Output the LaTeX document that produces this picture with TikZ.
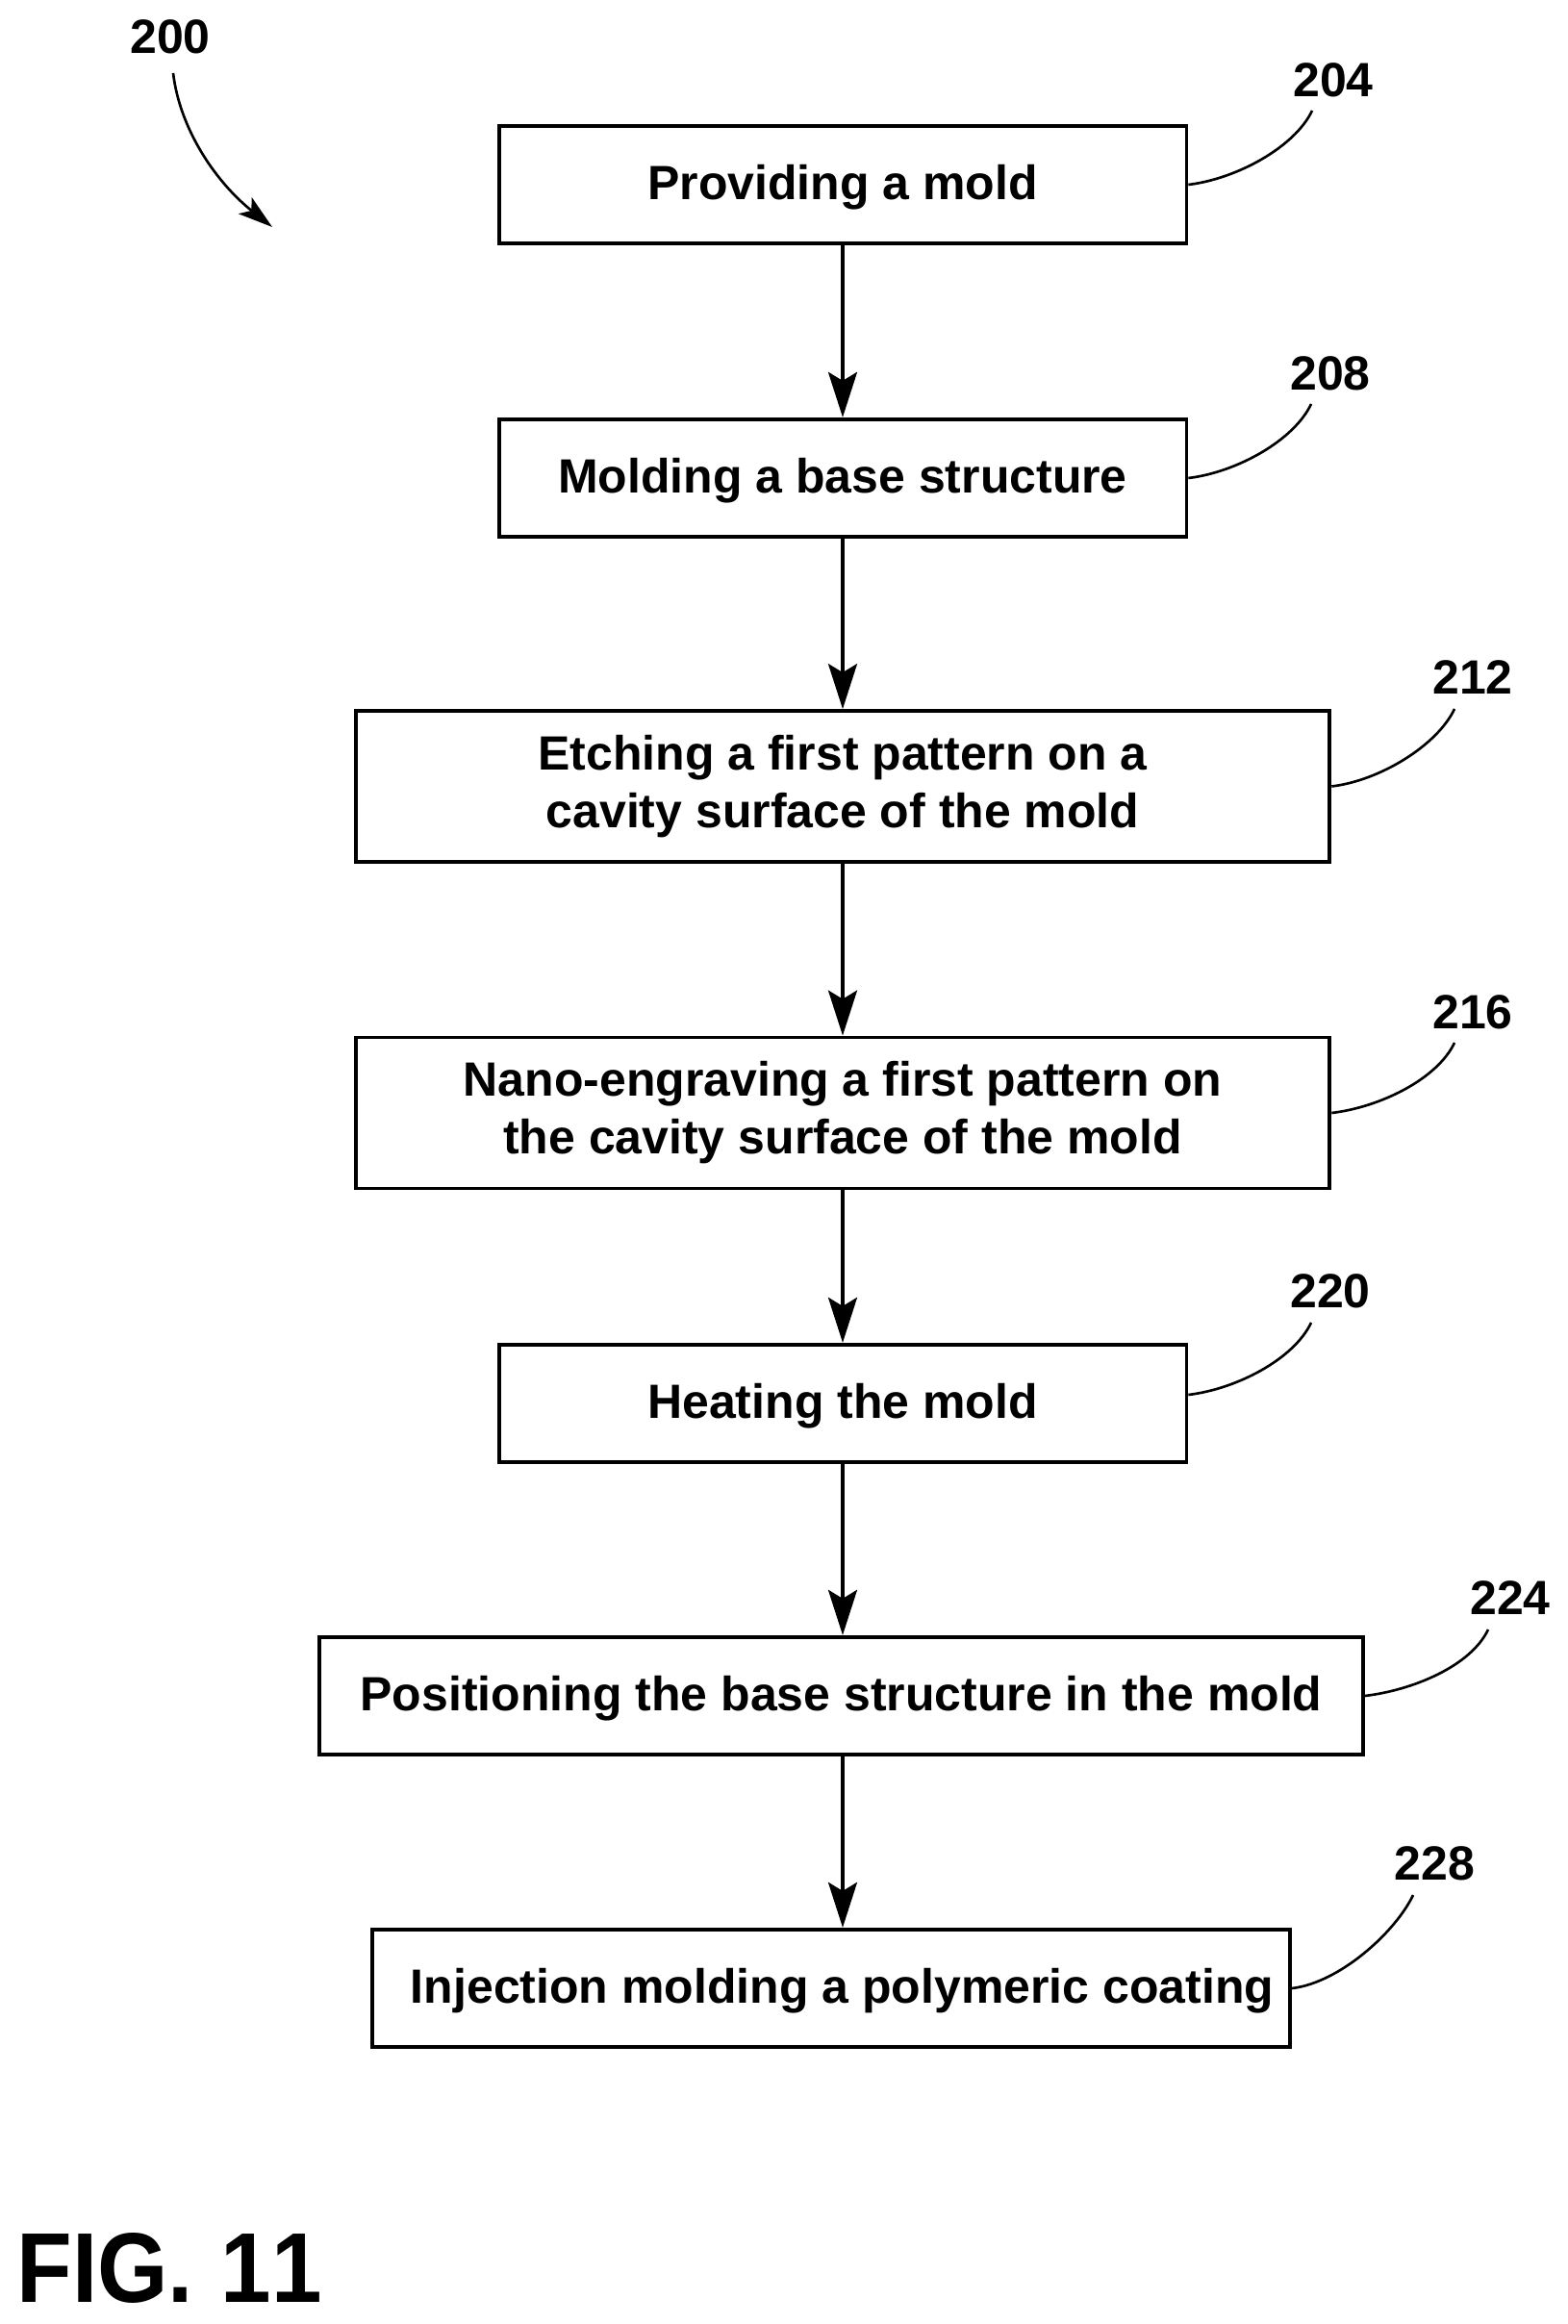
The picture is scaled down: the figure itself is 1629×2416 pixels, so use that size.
\documentclass[tikz,border=0pt]{standalone}
\usepackage{graphicx}
\usepackage{fontspec}
\setmainfont{Liberation Sans}
\usetikzlibrary{arrows.meta}
\tikzset{
  stepbox/.style={draw=black,line width=2.2pt,fill=white,align=center,inner sep=0pt,
    font=\fontsize{28.45}{34.1}\selectfont\bfseries,minimum width=14.3cm,minimum height=2.45cm,
    execute at begin node={\rule{0pt}{0.83cm}}},
  widebox/.style={stepbox,minimum width=20.26cm,minimum height=3.14cm,
    execute at begin node={}},
  refnum/.style={font=\fontsize{28.45}{34.1}\selectfont\bfseries,inner sep=0pt},
  flowline/.style={line width=2pt,-{Stealth[length=0.94cm,width=0.6cm,inset=0.18cm]}},
  leadline/.style={line width=1.5pt},
}
\begin{document}
\begin{tikzpicture}[x=0.02cm,y=-0.02cm]
\useasboundingbox (0,0) rectangle (1629,2416);
\node[stepbox] (mold) at (876,192) {Providing a mold};
\node[stepbox] (base) at (876,497) {Molding a base structure};
\node[widebox] (etch) at (876,817.5) {Etching a first pattern on a\\cavity surface of the mold};
\node[widebox] (nano) at (876,1157) {Nano-engraving a first pattern on\\the cavity surface of the mold};
\node[stepbox] (heat) at (876,1459) {Heating the mold};
\node[stepbox,minimum width=21.7cm] (place) at (874.5,1763) {Positioning the base structure in the mold};
\node[stepbox,minimum width=19.09cm] (coat) at (864,2067) {\hspace*{0.46cm}Injection molding a polymeric coating};

\draw[flowline] (mold.south) -- (mold.south |- base.north);
\draw[flowline] (base.south) -- (base.south |- etch.north);
\draw[flowline] (etch.south) -- (etch.south |- nano.north);
\draw[flowline] (nano.south) -- (nano.south |- heat.north);
\draw[flowline] (heat.south) -- (heat.south |- place.north);
\draw[flowline] (heat.south |- place.south) -- (heat.south |- coat.north);

\node[refnum] (n200) at (177,38) {200};
\node[refnum] (n204) at (1386,83) {204};
\node[refnum] (n208) at (1383,388) {208};
\node[refnum] (n212) at (1531,704) {212};
\node[refnum] (n216) at (1531,1052) {216};
\node[refnum] (n220) at (1383,1342) {220};
\node[refnum] (n224) at (1570,1661) {224};
\node[refnum] (n228) at (1491.5,1937) {228};
\node[font=\fontsize{58.7}{60}\selectfont\bfseries,inner sep=0pt,anchor=base west] (fig) at (17,2393) {\scalebox{0.915}[1]{FIG.\kern0.06cm{} 1\kern0cm 1}};

\coordinate (t200) at (180,76);
\coordinate (t204) at (1364,115);
\coordinate (t208) at (1363,420);
\coordinate (t212) at (1512,737);
\coordinate (t216) at (1512,1084);
\coordinate (t220) at (1363,1375);
\coordinate (t224) at (1547,1694);
\coordinate (t228) at (1469,1970);
\coordinate (h200) at (283,236);

\draw[leadline] (mold.east) .. controls +(50,-6) and +(-18,38) .. (t204);
\draw[leadline] (base.east) .. controls +(50,-6) and +(-18,38) .. (t208);
\draw[leadline] (etch.east) .. controls +(50,-6) and +(-18,38) .. (t212);
\draw[leadline] (nano.east) .. controls +(50,-6) and +(-18,38) .. (t216);
\draw[leadline] ([yshift=0.18cm]heat.east) .. controls +(50,-6) and +(-18,38) .. (t220);
\draw[leadline] (place.east) .. controls +(50,-6) and +(-18,38) .. (t224);
\draw[leadline] (coat.east) .. controls +(50,-6) and +(-18,38) .. (t228);
\draw[line width=1.5pt,-{Stealth[length=0.72cm,width=0.44cm,inset=0.17cm]}] (t200) .. controls (187,135) and (225,190) .. (h200);
\end{tikzpicture}
\end{document}
